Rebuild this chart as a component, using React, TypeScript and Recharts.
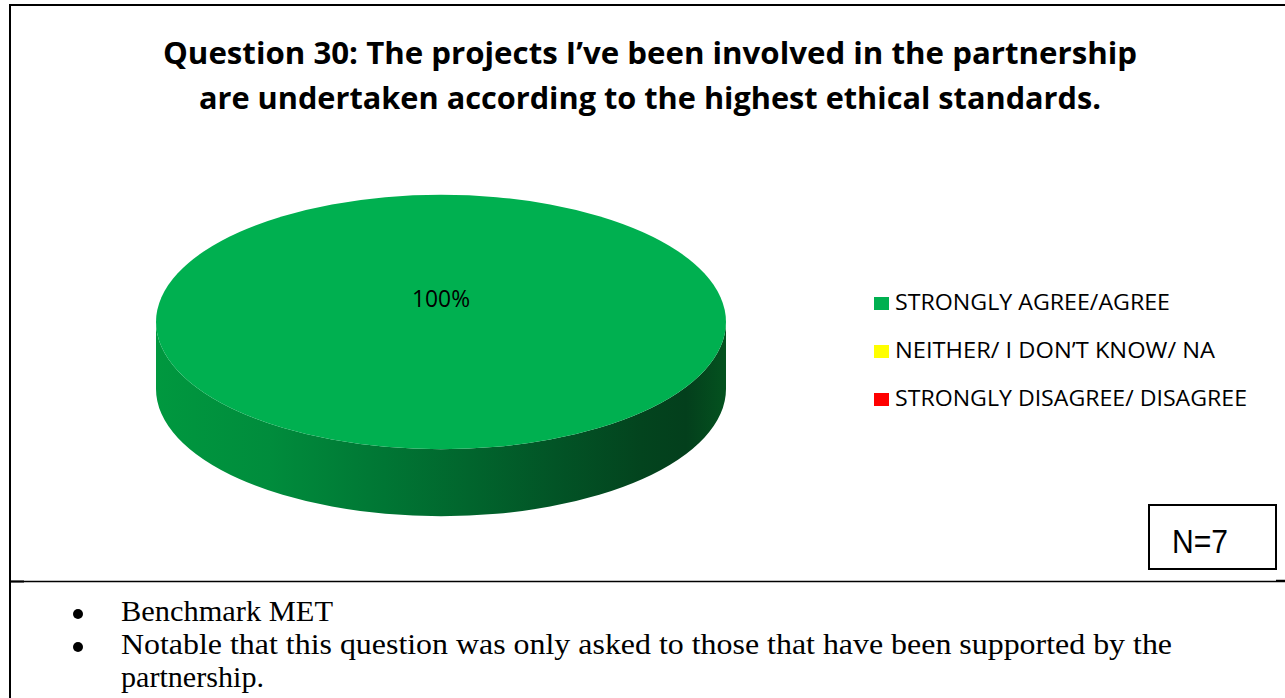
import React from "react";
import { PieChart, Pie, Cell, Legend } from "recharts";

// ---------- data ----------
const CATEGORIES = [
  "STRONGLY AGREE/AGREE",
  "NEITHER/ I DON’T KNOW/ NA",
  "STRONGLY DISAGREE/ DISAGREE",
];
const VALUES = [100, 0, 0];
const COLORS = ["#00B050", "#FFFF00", "#FF0000"];
const TITLE_LINES = [
  "Question 30: The projects I’ve been involved in the partnership",
  "are undertaken according to the highest ethical standards.",
];
const SAMPLE_SIZE = "N=7";
const NOTE_LINES = [
  "Benchmark MET",
  "Notable that this question was only asked to those that have been supported by the",
  "partnership.",
];
const NOTE_BULLETS = [true, true, false];

// ---------- layout / style constants ----------
const W = 1285;
const H = 698;
const TILT = 127.5 / 285.5;
const DEPTH = 67;
const LEGEND_TEXT_WIDTHS = [275, 320, 352];
const TITLE_WIDTHS = [974, 902];
const NOTE_WIDTHS = [212, 1051, 143];

const data = CATEGORIES.map((name, i) => ({ name, value: VALUES[i], fill: COLORS[i] }));

const rad = (a: number) => (a * Math.PI) / 180;

function Pie3DShape(props: any) {
  const { cx, cy, outerRadius, startAngle, endAngle, fill } = props;
  const span = Math.abs(endAngle - startAngle);
  if (!span || span <= 0) return null;
  const rx = outerRadius;
  const ry = outerRadius * TILT;
  const P = (a: number, dy = 0) => [cx + rx * Math.cos(rad(a)), cy - ry * Math.sin(rad(a)) + dy];
  const lo = Math.min(startAngle, endAngle);
  const hi = Math.max(startAngle, endAngle);
  const sides: string[] = [];
  for (let k = -2; k <= 2; k++) {
    const s = Math.max(lo, 180 + 360 * k);
    const e = Math.min(hi, 360 + 360 * k);
    if (e > s) {
      const [x1, y1] = P(s);
      const [x2, y2] = P(e);
      sides.push(
        `M${x1},${y1} L${x1},${y1 + DEPTH} A${rx},${ry} 0 0 0 ${x2},${y2 + DEPTH} L${x2},${y2} A${rx},${ry} 0 0 1 ${x1},${y1} Z`
      );
    }
  }
  const gid = `side-grad-${props.index ?? 0}`;
  let top: React.ReactNode;
  if (span >= 359.99) {
    top = <ellipse cx={cx} cy={cy} rx={rx} ry={ry} fill={fill} />;
  } else {
    const [sx, sy] = P(startAngle);
    const [ex, ey] = P(endAngle);
    const large = span > 180 ? 1 : 0;
    const sweep = endAngle < startAngle ? 1 : 0;
    top = (
      <path d={`M${cx},${cy} L${sx},${sy} A${rx},${ry} 0 ${large} ${sweep} ${ex},${ey} Z`} fill={fill} />
    );
  }
  return (
    <g>
      <defs>
        <linearGradient id={gid} gradientUnits="userSpaceOnUse" x1={cx - rx} y1={0} x2={cx + rx} y2={0}>
          <stop offset="0" stopColor="#00983F" />
          <stop offset="0.2" stopColor="#008C3C" />
          <stop offset="0.4" stopColor="#007634" />
          <stop offset="0.55" stopColor="#01652D" />
          <stop offset="0.7" stopColor="#025426" />
          <stop offset="0.85" stopColor="#03441E" />
          <stop offset="0.93" stopColor="#033F1C" />
          <stop offset="1" stopColor="#04521F" />
        </linearGradient>
      </defs>
      {sides.map((d, i) => (
        <path key={i} d={d} fill={`url(#${gid})`} />
      ))}
      {top}
    </g>
  );
}

const renderLabel = (p: any) => {
  if (!p.value) return null;
  const rx = p.outerRadius;
  const ry = rx * TILT;
  let x: number;
  let y: number;
  if (p.percent >= 0.999) {
    x = p.cx;
    y = p.cy - 15;
  } else {
    x = p.cx + 0.55 * rx * Math.cos(rad(p.midAngle));
    y = p.cy - 0.55 * ry * Math.sin(rad(p.midAngle)) + 7;
  }
  return (
    <text
      x={x}
      y={y}
      textAnchor="middle"
      fontFamily="'Open Sans', sans-serif"
      fontSize={23}
      fill="#000"
      textLength={58}
      lengthAdjust="spacingAndGlyphs"
    >
      {`${Math.round(p.percent * 100)}%`}
    </text>
  );
};

const renderLegend = (props: any) => {
  const raw: any[] =
    props.payload && props.payload.length === CATEGORIES.length
      ? props.payload
      : CATEGORIES.map((c, i) => ({ value: c, color: COLORS[i] }));
  const payload = [...raw].sort(
    (a, b) => CATEGORIES.indexOf(a.value) - CATEGORIES.indexOf(b.value)
  );
  return (
    <svg width={420} height={140} style={{ display: "block" }}>
      {payload.map((item, i) => (
        <g key={i}>
          <rect x={14} y={12 + 48 * i} width={15} height={13} fill={item.color || COLORS[i]} />
          <text
            x={35}
            y={25 + 48 * i}
            fontFamily="'Open Sans', sans-serif"
            fontSize={21}
            fill="#000"
            textLength={LEGEND_TEXT_WIDTHS[i]}
            lengthAdjust="spacingAndGlyphs"
          >
            {item.value}
          </text>
        </g>
      ))}
    </svg>
  );
};

export default function App() {
  return (
    <div style={{ position: "absolute", left: 0, top: 0, width: W, height: H, background: "#fff", overflow: "hidden" }}>
      <div style={{ position: "absolute", left: 0, top: 0 }}>
        <PieChart width={W} height={H} margin={{ top: 0, right: 0, bottom: 0, left: 0 }}>
          <Pie
            data={data}
            dataKey="value"
            nameKey="name"
            cx={441}
            cy={322}
            outerRadius={285}
            startAngle={90}
            endAngle={-270}
            stroke="none"
            isAnimationActive={false}
            labelLine={false}
            label={renderLabel}
            shape={Pie3DShape}
            activeShape={Pie3DShape}
            inactiveShape={Pie3DShape}
          >
            {data.map((d, i) => (
              <Cell key={i} fill={COLORS[i]} />
            ))}
          </Pie>
          <Legend
            layout="vertical"
            align="right"
            verticalAlign="middle"
            itemSorter={null as any}
            content={renderLegend}
            wrapperStyle={{ left: 860, top: 285, right: "auto", bottom: "auto", width: 420, height: 140 }}
          />
        </PieChart>
      </div>
      <svg
        width={W}
        height={H}
        style={{ position: "absolute", left: 0, top: 0, pointerEvents: "none" }}
      >
        {/* borders */}
        <line x1={10} y1={5} x2={W} y2={5} stroke="#000" strokeWidth={2} />
        <line x1={10} y1={4} x2={10} y2={H} stroke="#000" strokeWidth={2} />
        <line x1={10} y1={581.5} x2={1276} y2={581.5} stroke="#000" strokeWidth={1.5} />
        <line x1={10} y1={581.5} x2={24} y2={581.5} stroke="#000" strokeWidth={2} />
        <line x1={1276} y1={581} x2={W} y2={581} stroke="#000" strokeWidth={2.5} />

        {/* title */}
        {TITLE_LINES.map((t, i) => (
          <text
            key={i}
            x={650}
            y={64 + 45 * i}
            textAnchor="middle"
            fontFamily="'Open Sans', sans-serif"
            fontWeight={700}
            fontSize={30}
            fill="#000"
            textLength={TITLE_WIDTHS[i]}
            lengthAdjust="spacingAndGlyphs"
          >
            {t}
          </text>
        ))}

        {/* sample size box */}
        <rect x={1149} y={505} width={127} height={64} fill="#fff" stroke="#000" strokeWidth={2} />
        <text
          x={1172}
          y={553}
          fontFamily="'Liberation Sans', Arial, sans-serif"
          fontSize={33}
          fill="#000"
          textLength={56}
          lengthAdjust="spacingAndGlyphs"
        >
          {SAMPLE_SIZE}
        </text>

        {/* notes */}
        {NOTE_LINES.map((t, i) => (
          <g key={i}>
            {NOTE_BULLETS[i] && <circle cx={78} cy={614 + 33 * i} r={5} fill="#000" />}
            <text
              x={121}
              y={621 + 33 * i}
              fontFamily="'Liberation Serif', 'Times New Roman', serif"
              fontSize={30}
              fill="#000"
              textLength={NOTE_WIDTHS[i]}
              lengthAdjust="spacingAndGlyphs"
            >
              {t}
            </text>
          </g>
        ))}
      </svg>
    </div>
  );
}
